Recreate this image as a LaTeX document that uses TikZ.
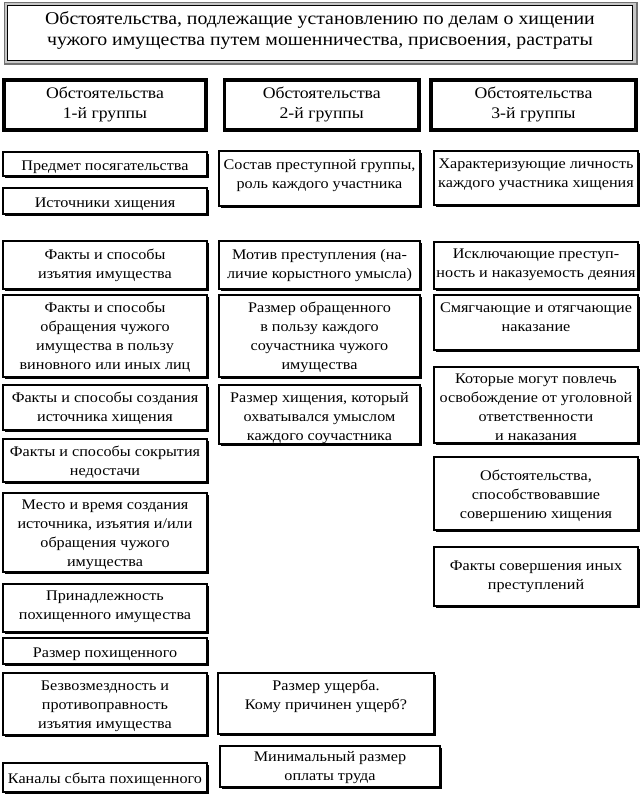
\documentclass[tikz,border=0pt]{standalone}
\usepackage{fontspec}
\setmainfont{Liberation Serif}[FakeStretch=1.1]
\usepackage{tikz}

\tikzset{
  cell/.style={draw=black, line width=1.4pt, fill=white},
  head/.style={draw=black, line width=3.6pt, fill=white},
  txt/.style={align=center, inner sep=0pt, font=\fontsize{14.7}{19}\selectfont,
    execute at begin node=\strut, execute at end node=\strut},
}

% box with shadow: name, left, top, right, bottom, text shift, text
\newcommand{\infobox}[7]{%
  \fill[black] (#2 + 2.3, #3 + 2.3) rectangle (#4 + 2.3, #5 + 2.3);
  \draw[cell] (#2, #3) rectangle (#4, #5);
  \node[txt] (#1) at ({(#2 + #4) / 2}, {(#3 + #5) / 2 + (#6) + 2.5}) {#7};
}

\begin{document}
\begin{tikzpicture}[x=1pt, y=-1pt]
  \useasboundingbox (0, 0) rectangle (641, 795);

  % title
  \fill[black!55] (4, 2) rectangle (637.5, 64.5);
  \fill[black!22] (5, 3) rectangle (636, 63);
  \draw[black, line width=1pt, fill=white] (7, 5.5) rectangle (632.5, 60.5);
  \node[txt, font=\fontsize{18}{21}\selectfont] (title) at (320, 32)
    {Обстоятельства, подлежащие установлению по делам о хищении\\
     чужого имущества путем мошенничества, присвоения, растраты};

  % group headers
  \foreach [count=\n] \xa/\xb in {4/206, 224.5/419, 431/636} {
    \draw[head] (\xa, 80) rectangle (\xb, 130);
    \node[txt, font=\fontsize{16.1}{20.5}\selectfont] (grp\n) at ({(\xa + \xb) / 2}, 106) {Обстоятельства\\\n-й группы};
  }

  % 1st group
  \infobox{a1}{3}{152}{207}{176}{0}{Предмет посягательства}
  \infobox{a2}{3}{188}{207}{214}{0.5}{Источники хищения}
  \infobox{a3}{3}{241}{207}{289}{-1}{Факты и способы\\изъятия имущества}
  \infobox{a4}{3}{295}{207}{377}{0}{Факты и способы\\обращения чужого\\имущества в пользу\\виновного или иных лиц}
  \infobox{a5}{3}{385}{207}{430}{0}{Факты и способы создания\\источника хищения}
  \infobox{a6}{3}{439}{207}{482}{1}{Факты и способы сокрытия\\недостачи}
  \infobox{a7}{3}{493}{207}{572}{1}{Место и время создания\\источника, изъятия и/или\\обращения чужого\\имущества}
  \infobox{a8}{3}{584}{207}{632}{-2}{Принадлежность\\похищенного имущества}
  \infobox{a9}{3}{638}{207}{664}{0}{Размер похищенного}
  \infobox{a10}{3}{673}{207}{735}{1}{Безвозмездность и\\противоправность\\изъятия имущества}
  \infobox{a11}{3}{763}{207}{792}{0}{Каналы сбыта похищенного}

  % 2nd group
  \infobox{b1}{219}{151}{420}{206}{-4.5}{Состав преступной группы,\\роль каждого участника}
  \infobox{b2}{219}{241}{420}{289}{-1}{Мотив преступления (на-\\личие корыстного умысла)}
  \infobox{b3}{219}{295}{420}{377}{0}{Размер обращенного\\в пользу каждого\\соучастника чужого\\имущества}
  \infobox{b4}{219}{385}{420}{444}{2}{Размер хищения, который\\охватывался умыслом\\каждого соучастника}
  \infobox{b5}{218}{673}{434}{734}{-8.5}{Размер ущерба.\\Кому причинен ущерб?}
  \infobox{b6}{220}{746}{440}{787}{0}{Минимальный размер\\оплаты труда}

  % 3rd group
  \infobox{c1}{434}{151}{638}{205}{-4}{Характеризующие личность\\каждого участника хищения}
  \infobox{c2}{434}{242}{638}{289}{-1.5}{Исключающие преступ-\\ность и наказуемость деяния}
  \infobox{c3}{434}{295}{638}{350}{-5}{Смягчающие и отягчающие\\наказание}
  \infobox{c4}{434}{367}{638}{443}{3}{Которые могут повлечь\\освобождение от уголовной\\ответственности\\и наказания}
  \infobox{c5}{434}{457}{638}{530}{1.5}{Обстоятельства,\\способствовавшие\\совершению хищения}
  \infobox{c6}{434}{547}{638}{606}{-1}{Факты совершения иных\\преступлений}

\end{tikzpicture}
\end{document}
